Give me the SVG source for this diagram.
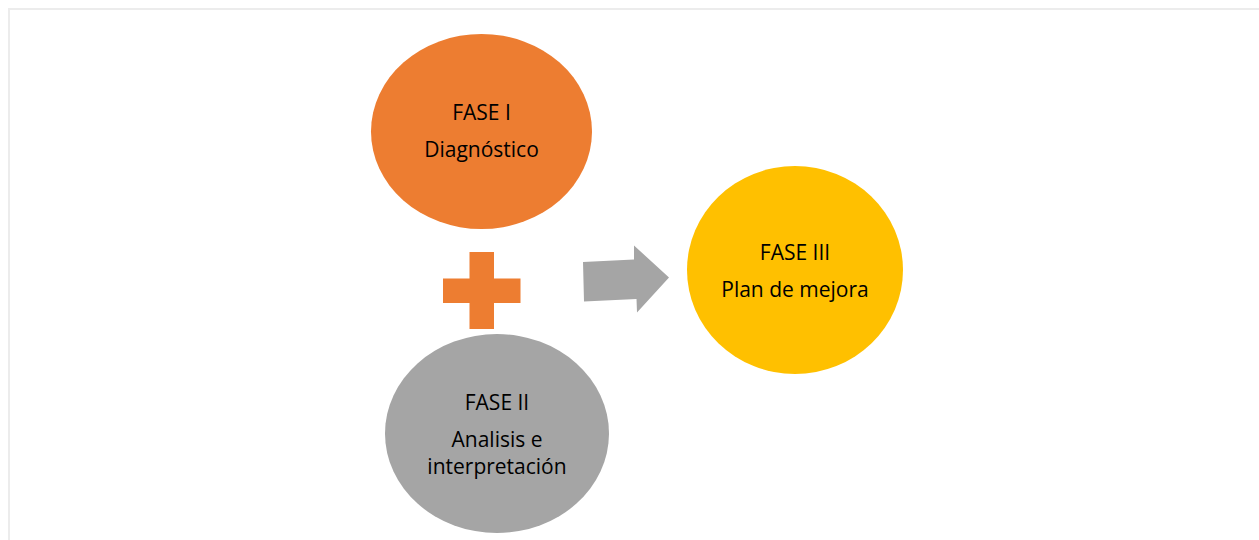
<svg xmlns="http://www.w3.org/2000/svg" width="1259" height="540" viewBox="0 0 1259 540">
  <style>
    .label { font-family: "Open Sans", "Liberation Sans", sans-serif; font-size: 21px; fill: #000; text-anchor: middle; }
    .frame { fill: none; stroke: #ececec; stroke-width: 2; }
  </style>
  <rect width="1259" height="540" fill="#ffffff"/>
  <!-- page frame -->
  <path class="frame" d="M9 541 V9 H1260"/>

  <g id="fase-1">
    <ellipse cx="481.5" cy="131.5" rx="110.5" ry="97.5" fill="#ED7D31"/>
    <text class="label" x="481.5" y="120">FASE I</text>
    <text class="label" x="481.5" y="157">Diagnóstico</text>
  </g>

  <g id="fase-2">
    <ellipse cx="497" cy="433.5" rx="112" ry="99.5" fill="#A5A5A5"/>
    <text class="label" x="497" y="410">FASE II</text>
    <text class="label" x="497" y="447">Analisis e</text>
    <text class="label" x="497" y="474">interpretación</text>
  </g>

  <g id="fase-3">
    <ellipse cx="795" cy="270" rx="108" ry="104" fill="#FFC000"/>
    <text class="label" x="795" y="260">FASE III</text>
    <text class="label" x="795" y="297">Plan de mejora</text>
  </g>

  <g id="connectors">
    <!-- plus sign joining phase I and phase II -->
    <path id="plus" fill="#ED7D31" d="M469.5 252 H494 V278.5 H520.5 V303 H494 V329 H469.5 V303 H443 V278.5 H469.5 Z"/>
    <!-- arrow leading to phase III -->
    <polygon id="arrow" fill="#A5A5A5" points="583,262 634,259.5 634,245.5 669,277.5 637,312.5 636.5,299 584,301.5"/>
  </g>
</svg>
